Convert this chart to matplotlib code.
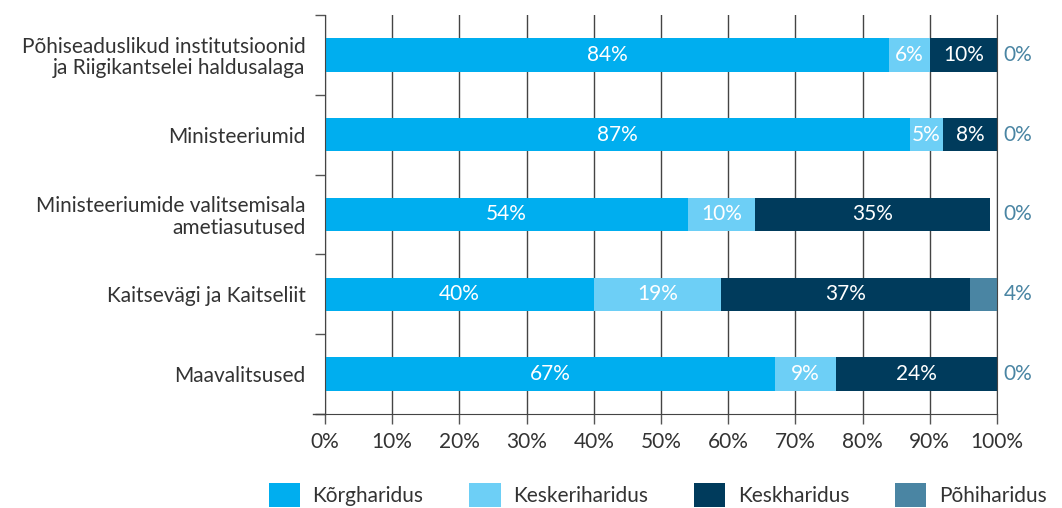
import matplotlib
matplotlib.use("Agg")
import matplotlib.pyplot as plt
import numpy as np
from matplotlib.patches import Patch

plt.rcParams['font.family'] = ['Lato', 'DejaVu Sans']

categories = [
    "Põhiseaduslikud institutsioonid\nja Riigikantselei haldusalaga",
    "Ministeeriumid",
    "Ministeeriumide valitsemisala\nametiasutused",
    "Kaitsevägi ja Kaitseliit",
    "Maavalitsused",
]
series_names = ["Kõrgharidus", "Keskeriharidus", "Keskharidus", "Põhiharidus"]
korgharidus = [84, 87, 54, 40, 67]
keskeriharidus = [6, 5, 10, 19, 9]
keskharidus = [10, 8, 35, 37, 24]
pohiharidus = [0, 0, 0, 4, 0]
colors = ["#00AEEF", "#6DCFF6", "#003B5C", "#4A85A3"]
xticks = [0, 10, 20, 30, 40, 50, 60, 70, 80, 90, 100]

series = [korgharidus, keskeriharidus, keskharidus, pohiharidus]
FS = 15

fig = plt.figure(figsize=(10.62, 5.08), dpi=100)
ax = fig.add_axes([325 / 1062, 1 - 414 / 508, 672 / 1062, 399 / 508])

y = np.arange(len(categories))
left = np.zeros(len(categories))
for idx, (vals, col) in enumerate(zip(series, colors)):
    vals = np.array(vals, dtype=float)
    ax.barh(y, vals, left=left, height=0.42, color=col, zorder=2)
    for i, v in enumerate(vals):
        if idx < 3:
            if v > 0:
                ax.text(left[i] + v / 2, y[i], f"{int(v)}%", ha="center", va="center",
                        color="white", fontsize=FS, zorder=3)
        else:
            ax.text(101, y[i], f"{int(v)}%", ha="left", va="center",
                    color=col, fontsize=FS, zorder=3, clip_on=False)
    left += vals

ax.set_xlim(0, 100)
ax.set_ylim(len(categories) - 0.5, -0.5)
ax.set_xticks(xticks)
ax.set_xticklabels([f"{t}%" for t in xticks], fontsize=FS, color="#333333")
ax.set_yticks(y)
ax.set_yticklabels(categories, fontsize=FS, color="#333333", ha="right",
                   linespacing=1.1)
ax.set_yticks(np.arange(-0.5, len(categories)), minor=True)
ax.tick_params(axis="y", which="major", length=0, pad=14)
ax.tick_params(axis="y", which="minor", length=7, width=1, color="#555555", direction="out")
ax.tick_params(axis="x", which="major", length=7, width=1, color="#555555", direction="out", pad=6)

ax.xaxis.grid(True, color="#444444", linewidth=1, zorder=1)
ax.set_axisbelow(True)
ax.spines["top"].set_visible(False)
for side in ["left", "bottom", "right"]:
    ax.spines[side].set_color("#444444")
ax.plot([-0.018, 0], [0, 0], transform=ax.transAxes, color="#444444",
        linewidth=1, clip_on=False)

handles = [Patch(facecolor=c, edgecolor="none") for c in colors]
fig.legend(handles, series_names, loc="lower left", bbox_to_anchor=(250 / 1062, -0.035),
           ncol=4, frameon=False, fontsize=FS, handlelength=1.5, handleheight=1.4,
           handletextpad=0.6, columnspacing=2.2, labelcolor="#333333")

fig.savefig("out.png", dpi=100)
